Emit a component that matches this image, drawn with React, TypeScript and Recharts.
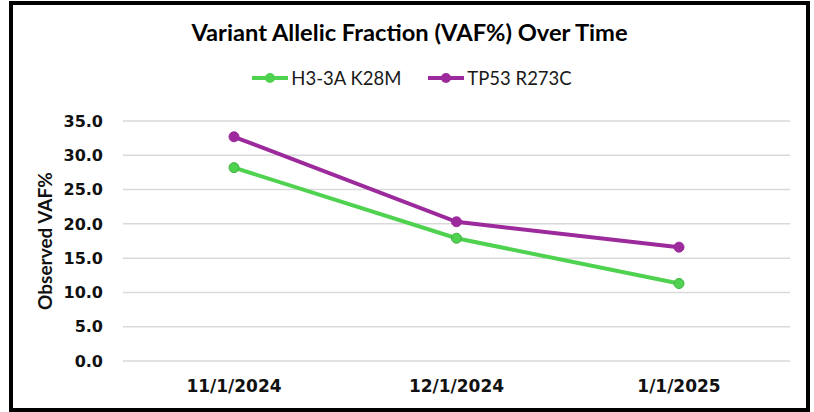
import { LineChart, Line, XAxis, YAxis, CartesianGrid, Legend } from "recharts";

const dates = ["11/1/2024", "12/1/2024", "1/1/2025"];
const h33a = [28.2, 17.9, 11.3];
const tp53 = [32.7, 20.3, 16.6];
const yTicks = [0, 5, 10, 15, 20, 25, 30, 35];

const GREEN = "#4FD24F";
const PURPLE = "#9C2A9C";
const FONT = "Lato, 'Open Sans', sans-serif";
const TICK_FONT = "'DejaVu Sans', sans-serif";

const rows = dates.map((d, i) => ({ date: d, h33a: h33a[i], tp53: tp53[i] }));

const LegendContent = () => {
  const items = [
    { label: "H3-3A K28M", color: GREEN },
    { label: "TP53 R273C", color: PURPLE },
  ];
  return (
    <div style={{ display: "flex", justifyContent: "center", gap: 26, fontFamily: FONT, fontSize: 18.5, color: "#1a1a1a" }}>
      {items.map((it) => (
        <div key={it.label} style={{ display: "flex", alignItems: "center" }}>
          <svg width={38} height={12} style={{ marginRight: 2 }}>
            <line x1={1} y1={6} x2={37} y2={6} stroke={it.color} strokeWidth={4} />
            <circle cx={19} cy={6} r={5} fill={it.color} />
          </svg>
          <span>{it.label}</span>
        </div>
      ))}
    </div>
  );
};

export default function App() {
  return (
    <div
      style={{
        position: "absolute",
        left: 9,
        top: 1,
        width: 801,
        height: 411,
        border: "4px solid #000",
        boxSizing: "border-box",
        background: "#fff",
      }}
    >
      <div
        style={{
          position: "absolute",
          top: 13,
          left: 0,
          width: "100%",
          textAlign: "center",
          fontFamily: FONT,
          fontWeight: 700,
          fontSize: 23.7,
          color: "#000",
        }}
      >
        Variant Allelic Fraction (VAF%) Over Time
      </div>
      <LineChart width={793} height={403} data={rows} margin={{ top: 94, right: 16, bottom: 7, left: 20 }}>
        <CartesianGrid vertical={false} stroke="#d9d9d9" strokeWidth={1.5} />
        <XAxis
          dataKey="date"
          axisLine={false}
          tickLine={false}
          tickSize={6}
          tickMargin={13}
          height={40}
          padding={{ left: 111, right: 111 }}
          tick={{ fill: "#111", fontSize: 17, fontWeight: 700, fontFamily: TICK_FONT }}
        />
        <YAxis
          domain={[0, 35]}
          ticks={yTicks}
          width={90}
          axisLine={false}
          tickLine={false}
          tickSize={6}
          tickMargin={14}
          tickFormatter={(v: number) => v.toFixed(1)}
          tick={{ fill: "#111", fontSize: 16, fontWeight: 700, fontFamily: TICK_FONT }}
          label={{
            value: "Observed VAF%",
            angle: -90,
            position: "insideLeft",
            offset: 12,
            style: { textAnchor: "middle", fill: "#111", fontSize: 19, fontWeight: 700, fontFamily: FONT },
          }}
        />
        <Legend verticalAlign="top" content={<LegendContent />} wrapperStyle={{ top: 62 }} />
        <Line
          dataKey="h33a"
          name="H3-3A K28M"
          stroke={GREEN}
          strokeWidth={4}
          dot={{ r: 5, fill: GREEN, stroke: "#3FAF3F", strokeWidth: 1 }}
          isAnimationActive={false}
        />
        <Line
          dataKey="tp53"
          name="TP53 R273C"
          stroke={PURPLE}
          strokeWidth={4}
          dot={{ r: 5, fill: PURPLE, stroke: PURPLE, strokeWidth: 1 }}
          isAnimationActive={false}
        />
      </LineChart>
    </div>
  );
}
